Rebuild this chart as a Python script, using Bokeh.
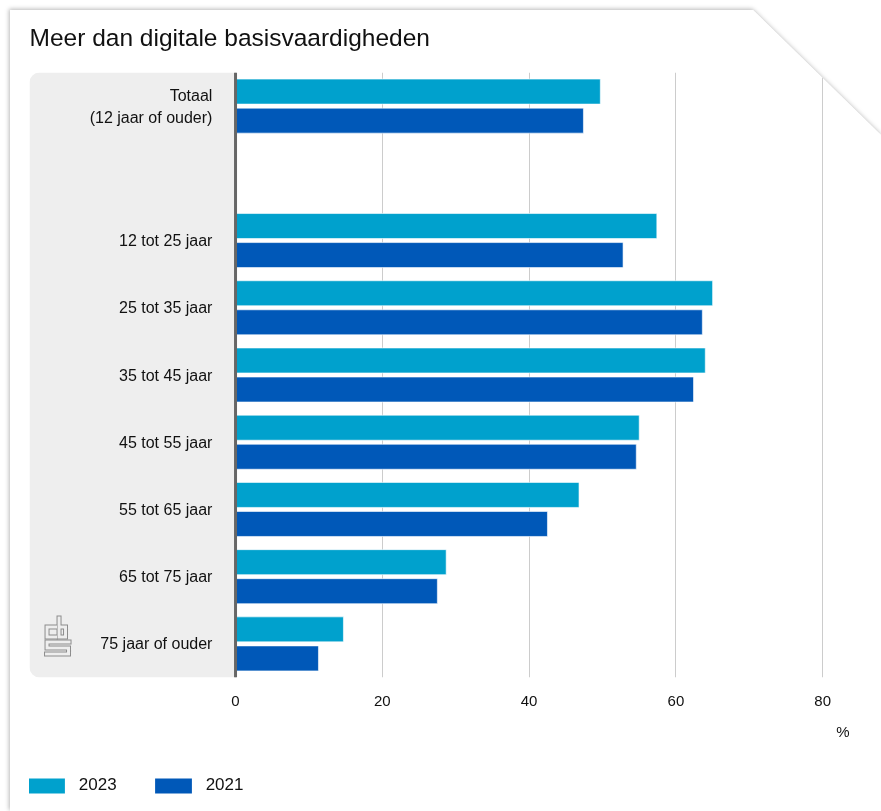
from bokeh.plotting import figure
from bokeh.models import (FactorRange, Range1d, FixedTicker, Span, BoxAnnotation,
                          Legend, LegendItem, Title, ColumnDataSource)
from bokeh.transform import dodge
from bokeh.core.properties import value
from bokeh.layouts import column
from bokeh.embed import file_html
from bokeh.resources import INLINE

# ---------------- data ----------------
categories = ["Totaal\n(12 jaar of ouder)", "12 tot 25 jaar", "25 tot 35 jaar",
              "35 tot 45 jaar", "45 tot 55 jaar", "55 tot 65 jaar",
              "65 tot 75 jaar", "75 jaar of ouder"]
spacer = " "
values_2023 = [49.7, 57.4, 65.0, 64.0, 55.0, 46.8, 28.7, 14.7]
values_2021 = [47.4, 52.8, 63.6, 62.4, 54.6, 42.5, 27.5, 11.3]
series_labels = ["2023", "2021"]
x_ticks = [0, 20, 40, 60, 80]
title_text = "Meer dan digitale basisvaardigheden"
unit_text = "%"

# ---------------- styling ----------------
FONT = "Liberation Sans"
C2023 = "#00a1cd"
C2021 = "#0058b8"
PANEL = "#eeeeee"
W = 881
H_MAIN = 760
H_LEG = 51

factors = [categories[0], spacer] + categories[1:]
y_range = FactorRange(factors=list(reversed(factors)), range_padding=0)
x_range = Range1d(-28.07, 83.65)

p = figure(width=W, height=H_MAIN, x_range=x_range, y_range=y_range,
           output_backend="svg", toolbar_location=None,
           min_border_left=29, min_border_right=32,
           min_border_top=72, min_border_bottom=83,
           background_fill_color="white", border_fill_color="white")
p.outline_line_color = None

p.title.text = title_text
p.title.text_font = FONT
p.title.text_font_size = "24.5px"
p.title.text_font_style = "normal"
p.title.text_color = "#111111"
p.title.align = "left"
p.title.vertical_align = "top"
p.title.standoff = 40

# gray label panel
panel = BoxAnnotation(right=0, fill_color=PANEL, fill_alpha=1, line_color=None,
                      border_radius=dict(top_left=10, top_right=0, bottom_right=0, bottom_left=10),
                      level="underlay")
p.add_layout(panel)

# grid / axes
p.ygrid.visible = False
p.yaxis.visible = False
p.xgrid.ticker = FixedTicker(ticks=x_ticks)
p.xgrid.grid_line_color = "#cccccc"
p.xgrid.grid_line_width = 1
p.xaxis.ticker = FixedTicker(ticks=x_ticks)
p.xaxis.axis_line_color = None
p.xaxis.major_tick_line_color = None
p.xaxis.minor_tick_line_color = None
p.xaxis.major_label_text_font = FONT
p.xaxis.major_label_text_font_size = "15px"
p.xaxis.major_label_text_color = "#111111"
p.xaxis.major_label_standoff = 12

src = ColumnDataSource(dict(cat=categories, v2023=values_2023, v2021=values_2021))

bar_style = dict(line_color="white", line_alpha=0.6, line_width=1)
r1 = p.hbar(y=dodge("cat", 0.216, range=y_range), left=0, right="v2023", height=0.372,
            source=src, fill_color=C2023, **bar_style)
r2 = p.hbar(y=dodge("cat", -0.216, range=y_range), left=0, right="v2021", height=0.372,
            source=src, fill_color=C2021, **bar_style)

# category labels
p.text(x=-3.15, y="cat", text="cat", source=src, text_align="right",
       text_baseline="middle", text_font=value(FONT), text_font_size="16px",
       text_color="#111111", text_line_height=1.3)

# vertical axis line
p.add_layout(Span(location=0, dimension="height", line_color="#666666", line_width=3))

# CBS logo (decoration), pixel paths converted to data coordinates
def to_x(px):
    return (px - 235.0) / 7.34

def to_y(py):
    return (677.0 - py) / (605.0 / 9.0)

logo_px = [
    [(55, 626.5), (46.5, 626.5), (46.5, 636.5), (55, 636.5)],
    [(58.5, 617.5), (58.5, 636.5), (65, 636.5), (65, 626.5), (58.5, 626.5)],
    [(68.5, 641.5), (46.5, 641.5), (46.5, 647.5), (68, 647.5), (68, 653.5), (46, 653.5)],
]
lx = [[to_x(a) for a, b in path] for path in logo_px]
ly = [[to_y(b) for a, b in path] for path in logo_px]
p.multi_line(xs=lx, ys=ly, line_color="#8c8c8c", line_width=5,
             line_join="miter", line_cap="square")
p.multi_line(xs=lx, ys=ly, line_color=PANEL, line_width=3,
             line_join="miter", line_cap="square")

# unit label
unit = Title(text=unit_text, align="right", text_font=FONT, text_font_size="15px",
             text_font_style="normal", text_color="#111111", standoff=24)
p.add_layout(unit, "below")

# ---------------- legend strip ----------------
pl = figure(width=W, height=H_LEG, x_range=Range1d(0, W), y_range=Range1d(0, H_LEG),
            output_backend="svg", toolbar_location=None,
            min_border=0, min_border_left=0, min_border_right=0,
            min_border_top=0, min_border_bottom=0,
            background_fill_color="white", border_fill_color="white")
pl.outline_line_color = None
pl.axis.visible = False
pl.grid.visible = False
# legend key renderers: one zero-width key bar each, kept outside the visible range
key = ColumnDataSource(dict(y=[-100], right=[0]))
l1 = pl.hbar(y="y", right="right", left=0, height=1, source=key, fill_color=C2023, line_color=None)
l2 = pl.hbar(y="y", right="right", left=0, height=1, source=key, fill_color=C2021, line_color=None)

legend = Legend(items=[LegendItem(label=series_labels[0], renderers=[l1]),
                       LegendItem(label=series_labels[1], renderers=[l2])],
                orientation="horizontal", location=(-6.2, 16),
                glyph_width=46, glyph_height=19, label_standoff=10, spacing=33,
                padding=0, margin=0, border_line_color=None, background_fill_alpha=0,
                label_text_font=FONT, label_text_font_size="17px",
                label_text_color="#111111", label_height=19)
pl.add_layout(legend, "center")

card = column(p, pl, spacing=0,
              styles={"clip-path": "polygon(10px 10px, 753px 10px, 881px 135px, 881px 811px, 10px 811px)",
                      "background-color": "white"})
root = column(card, styles={"filter": "drop-shadow(-1px -1px 2px rgba(0,0,0,0.28))"})

open("out.html", "w").write(file_html(root, INLINE))
